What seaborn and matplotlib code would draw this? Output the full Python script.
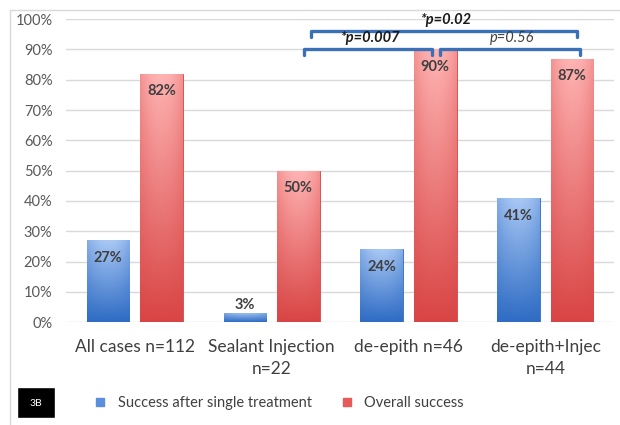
import numpy as np
import pandas as pd
import matplotlib
matplotlib.use("Agg")
import matplotlib.pyplot as plt
import matplotlib.colors as mcolors
from matplotlib.lines import Line2D
import seaborn as sns

# data
categories = ['All cases n=112', 'Sealant Injection\nn=22', 'de-epith n=46', 'de-epith+Injec\nn=44']
single_treatment = [27, 3, 24, 41]
overall_success = [82, 50, 90, 87]
series_names = ['Success after single treatment', 'Overall success']

# significance brackets: (x start, x end, level %, label, bold)
brackets = [
    (1.24, 2.17, 90, '*p=0.007', True),
    (2.23, 3.25, 90, 'p=0.56', False),
    (1.29, 3.23, 96, '*p=0.02', True),
]

df = pd.DataFrame({
    'cat': categories * 2,
    'val': single_treatment + overall_success,
    'series': [series_names[0]] * 4 + [series_names[1]] * 4,
})

sns.set_style('white')
plt.rcParams['font.family'] = ['Lato', 'DejaVu Sans']

fig = plt.figure(figsize=(6.2, 4.25), dpi=100)
ax = fig.add_axes([0.107, 0.242, 0.883, 0.713])

blue = '#5b8fdc'
red = '#e65a5a'
sns.barplot(data=df, x='cat', y='val', hue='series', palette=[blue, red],
            width=0.78, gap=0.2, legend=False, ax=ax, zorder=3)

ax.set_ylim(0, 100)
ax.set_xlim(-0.5, 3.5)
ax.set_yticks(range(0, 101, 10))
ax.set_yticklabels([f'{t}%' for t in range(0, 101, 10)], fontsize=10.5, color='#595959')
ax.tick_params(axis='x', labelsize=12.5, labelcolor='#404040', length=0, pad=12)
ax.tick_params(axis='y', length=0, pad=10)
for t in ax.get_xticklabels():
    t.set_linespacing(1.5)
ax.set_xlabel('')
ax.set_ylabel('')
ax.grid(axis='y', color='#d9d9d9', linewidth=1, zorder=0)
for s in ax.spines.values():
    s.set_visible(False)


def gradient_fill(patch, light, dark):
    x, y = patch.get_x(), patch.get_y()
    w, h = patch.get_width(), patch.get_height()
    cmap = mcolors.LinearSegmentedColormap.from_list('g', [dark, light])
    grad = np.linspace(0, 1, 100).reshape(-1, 1)
    horiz = 1 - 0.3 * np.abs(np.linspace(-1, 1, 50)) ** 2
    img = grad * horiz[None, :]
    im = ax.imshow(img, extent=[x, x + w, y, y + h], origin='lower', aspect='auto',
                   cmap=cmap, vmin=0, vmax=1, zorder=4)
    im.set_clip_path(patch)
    patch.set_edgecolor(dark)
    patch.set_linewidth(0.6)


for i, cont in enumerate(ax.containers):
    light, dark = (('#a9c8f5', '#2f6cc4') if i == 0 else ('#ffb3b3', '#d94545'))
    for p in cont:
        gradient_fill(p, light, dark)
    for p, v in zip(cont, cont.datavalues):
        xc = p.get_x() + p.get_width() / 2
        if v < 10:
            ax.text(xc, v + 0.5, f'{v:.0f}%', ha='center', va='bottom',
                    fontsize=10.5, fontweight='bold', color='#3f3f3f', zorder=6)
        else:
            ax.text(xc, v - 3.5, f'{v:.0f}%', ha='center', va='top',
                    fontsize=10.5, fontweight='bold', color='#3f3f3f', zorder=6)

# brackets
bcol = '#3a70b5'
for x0, x1, y, label, bold in brackets:
    ax.plot([x0, x0, x1, x1], [y - 2, y, y, y - 2], color=bcol, lw=2.4,
            solid_joinstyle='round', solid_capstyle='round', zorder=5, clip_on=False)
    ax.text((x0 + x1) / 2 + 0.02, y + 1.4, label, ha='center', va='bottom',
            fontsize=10.5, style='italic', fontweight='bold' if bold else 'normal',
            color='#1a1a1a' if bold else '#404040', zorder=6, clip_on=False)

# legend
handles = [Line2D([], [], marker='s', ls='', markersize=6, markerfacecolor=c,
                  markeredgecolor=c) for c in [blue, red]]
fig.legend(handles, series_names, loc='center', bbox_to_anchor=(0.443, 0.052), ncol=2,
           frameon=False, fontsize=10.5, handletextpad=0.2, columnspacing=1.4,
           labelcolor='#404040')

# panel tag and frame lines
fig.add_artist(plt.Rectangle((17 / 620, 1 - 418 / 425), 38 / 620, 31 / 425,
                             transform=fig.transFigure, facecolor='black', zorder=5))
fig.text(36 / 620, 1 - 403 / 425, '3B', color='white', fontsize=7.5, ha='center',
         va='center', zorder=6)
fig.add_artist(Line2D([10 / 620, 10 / 620, 1], [0, 1 - 10 / 425, 1 - 10 / 425],
                      transform=fig.transFigure, color='#d9d9d9', lw=1))

fig.savefig('out.png', dpi=100)
